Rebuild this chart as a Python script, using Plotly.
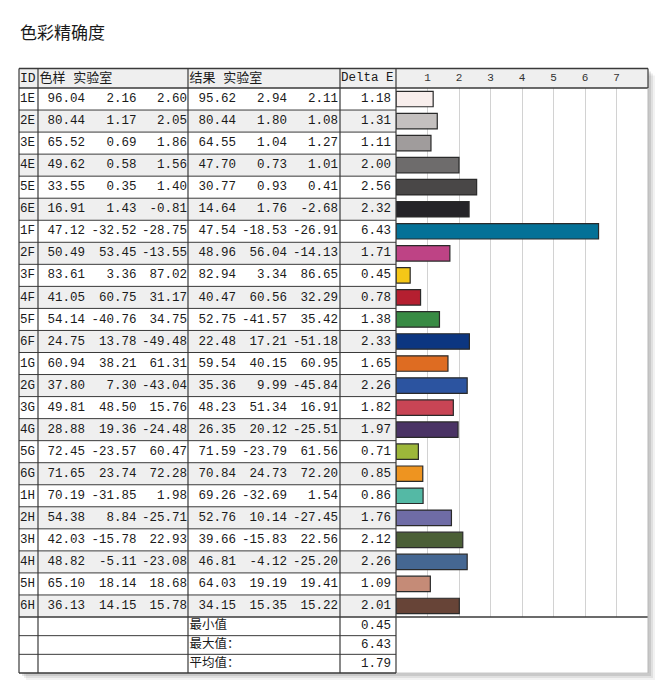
import plotly.graph_objects as go

# ---- data ----
ids = ["1E", "2E", "3E", "4E", "5E", "6E", "1F", "2F", "3F", "4F", "5F", "6F",
       "1G", "2G", "3G", "4G", "5G", "6G", "1H", "2H", "3H", "4H", "5H", "6H"]
sample_L = [96.04, 80.44, 65.52, 49.62, 33.55, 16.91, 47.12, 50.49, 83.61, 41.05, 54.14, 24.75,
            60.94, 37.80, 49.81, 28.88, 72.45, 71.65, 70.19, 54.38, 42.03, 48.82, 65.10, 36.13]
sample_a = [2.16, 1.17, 0.69, 0.58, 0.35, 1.43, -32.52, 53.45, 3.36, 60.75, -40.76, 13.78,
            38.21, 7.30, 48.50, 19.36, -23.57, 23.74, -31.85, 8.84, -15.78, -5.11, 18.14, 14.15]
sample_b = [2.60, 2.05, 1.86, 1.56, 1.40, -0.81, -28.75, -13.55, 87.02, 31.17, 34.75, -49.48,
            61.31, -43.04, 15.76, -24.48, 60.47, 72.28, 1.98, -25.71, 22.93, -23.08, 18.68, 15.78]
result_L = [95.62, 80.44, 64.55, 47.70, 30.77, 14.64, 47.54, 48.96, 82.94, 40.47, 52.75, 22.48,
            59.54, 35.36, 48.23, 26.35, 71.59, 70.84, 69.26, 52.76, 39.66, 46.81, 64.03, 34.15]
result_a = [2.94, 1.80, 1.04, 0.73, 0.93, 1.76, -18.53, 56.04, 3.34, 60.56, -41.57, 17.21,
            40.15, 9.99, 51.34, 20.12, -23.79, 24.73, -32.69, 10.14, -15.83, -4.12, 19.19, 15.35]
result_b = [2.11, 1.08, 1.27, 1.01, 0.41, -2.68, -26.91, -14.13, 86.65, 32.29, 35.42, -51.18,
            60.95, -45.84, 16.91, -25.51, 61.56, 72.20, 1.54, -27.45, 22.56, -25.20, 19.41, 15.22]
delta_e = [1.18, 1.31, 1.11, 2.00, 2.56, 2.32, 6.43, 1.71, 0.45, 0.78, 1.38, 2.33,
           1.65, 2.26, 1.82, 1.97, 0.71, 0.85, 0.86, 1.76, 2.12, 2.26, 1.09, 2.01]
bar_colors = ["#f8eeec", "#c4c0bf", "#a09c9c", "#6e6c6c", "#494747", "#252428",
              "#047197", "#be4385", "#f5c717", "#b51f30", "#388b44", "#0c3681",
              "#de6c22", "#2c54a0", "#c84555", "#4a3365", "#9db73a", "#ee9420",
              "#54b9a5", "#6f6ca6", "#4b5f36", "#456792", "#c58b77", "#674437"]
summary_labels = ["最小值", "最大值：", "平均值："]
summary_values = [0.45, 6.43, 1.79]
header_labels = ["ID", "色样 实验室", "结果 实验室", "Delta E"]
axis_ticks = [1, 2, 3, 4, 5, 6, 7]
title = "色彩精确度"

# ---- page layout (page pixels; the browser body adds an 8px margin) ----
PAD = 8
W, H = 670 - 2 * PAD, 693 - 2 * PAD
X_ID, X_SAMPLE, X_RESULT, X_DE, X_CHART, X_END = 19, 38, 188, 340, 396, 648
Y_TOP, Y_HEAD, Y_DATA_END, Y_END = 68.5, 88, 617, 673
n = len(ids)
row_h = (Y_DATA_END - Y_HEAD) / n
sum_h = (Y_END - Y_DATA_END) / len(summary_labels)
row_y = [Y_HEAD + (i + 0.5) * row_h for i in range(n)]
sum_y = [Y_DATA_END + (j + 0.5) * sum_h for j in range(len(summary_labels))]
head_y = (Y_TOP + Y_HEAD) / 2

MONO = "Liberation Mono, Noto Sans CJK SC, monospace"
TXT = "#1a1a1a"
LINE = "#3a3a3a"
ALT = "#efefef"

fig = go.Figure()
shapes = []


def rect(x0, x1, y0, y1, fill, layer="below"):
    shapes.append(dict(type="rect", xref="x", yref="y", layer=layer,
                       x0=x0, x1=x1, y0=y0, y1=y1, fillcolor=fill, line_width=0))


def rule(x0, x1, y0, y1, color=LINE, width=1):
    shapes.append(dict(type="line", xref="x", yref="y", layer="above",
                       x0=x0, x1=x1, y0=y0, y1=y1, line=dict(color=color, width=width)))


# drop shadow behind the whole block
for off, alpha in [(7, 0.05), (5, 0.07), (3, 0.10)]:
    rect(X_ID + off, X_END + off, Y_TOP + off, Y_END + off, f"rgba(0,0,0,{alpha})")
rect(X_ID, X_END, Y_TOP, Y_END, "white")
rect(X_ID, X_END, Y_TOP, Y_HEAD, ALT)
for i in range(n):
    if i % 2 == 1:
        rect(X_ID, X_CHART, Y_HEAD + i * row_h, Y_HEAD + (i + 1) * row_h, ALT)

# horizontal rules
for i in range(1, n):
    rule(X_ID, X_CHART, Y_HEAD + i * row_h, Y_HEAD + i * row_h)
for j in range(1, len(summary_labels)):
    rule(X_ID, X_CHART, Y_DATA_END + j * sum_h, Y_DATA_END + j * sum_h)
for y in [Y_TOP, Y_HEAD, Y_DATA_END]:
    rule(X_ID, X_END, y, y, width=1.3)
rule(X_ID, X_CHART, Y_END, Y_END, width=1.3)
rule(X_CHART, X_END, Y_END, Y_END, color="#c8c8c8")
# vertical rules
for x in [X_ID, X_SAMPLE, X_RESULT, X_DE, X_CHART]:
    rule(x, x, Y_TOP, Y_END, width=1.2)
rule(X_END, X_END, Y_TOP, Y_HEAD, width=1.2)
rule(X_END, X_END, Y_HEAD, Y_END, color="#b8b8b8")


def text_col(values, x, pos, size=12.5, ys=None):
    ys = row_y if ys is None else ys
    labels = [v if isinstance(v, str) else f"{v:.2f}" for v in values]
    fig.add_trace(go.Scatter(x=[x] * len(labels), y=ys, text=labels, mode="text",
                             textposition=pos, hoverinfo="skip", showlegend=False,
                             textfont=dict(family=MONO, size=size, color=TXT),
                             xaxis="x", yaxis="y"))


# header
text_col(header_labels[:1], X_ID + 1, "middle right", 13, ys=[head_y])
text_col(header_labels[1:2], X_SAMPLE + 1.5, "middle right", 13, ys=[head_y])
text_col(header_labels[2:3], X_RESULT + 1.5, "middle right", 13, ys=[head_y])
text_col(header_labels[3:4], X_DE + 1, "middle right", 12.5, ys=[head_y])

# body
text_col(ids, X_ID + 1, "middle right", 12.5)
for vals, xr in [(sample_L, 85), (sample_a, 136.5), (sample_b, 187),
                 (result_L, 236), (result_a, 287), (result_b, 338), (delta_e, 391)]:
    text_col(vals, xr, "middle left")

# summary rows
text_col(summary_labels, X_RESULT + 1.5, "middle right", 12.5, ys=sum_y)
text_col(summary_values, 391, "middle left", ys=sum_y)

# Delta E bars
fig.add_trace(go.Bar(x=delta_e, y=ids, orientation="h", xaxis="x2", yaxis="y2",
                     width=0.7, marker=dict(color=bar_colors, line=dict(color="#2a2a2a", width=1.2)),
                     hoverinfo="skip", showlegend=False))

fig.add_annotation(x=18, y=31, xref="x", yref="y", text=title, showarrow=False,
                   xanchor="left", yanchor="middle",
                   font=dict(family="Noto Sans CJK SC", size=17, color="#1a1a1a"))

fig.update_layout(
    width=W, height=H, margin=dict(l=0, r=0, t=0, b=0),
    paper_bgcolor="white", plot_bgcolor="rgba(0,0,0,0)",
    shapes=shapes,
    xaxis=dict(range=[PAD, PAD + W], visible=False, domain=[0, 1], fixedrange=True),
    yaxis=dict(range=[PAD + H, PAD], visible=False, domain=[0, 1], fixedrange=True),
    xaxis2=dict(domain=[(X_CHART - PAD) / W, (X_END - PAD) / W], range=[0, 8], anchor="y2",
                side="top", tickvals=axis_ticks, ticks="", showline=False, zeroline=False,
                showgrid=True, gridcolor="#d2d2d2", gridwidth=1, ticklabelstandoff=4,
                tickfont=dict(family=MONO, size=11, color="#333333")),
    yaxis2=dict(domain=[1 - (Y_DATA_END - PAD) / H, 1 - (Y_HEAD - PAD) / H], anchor="x2",
                type="category", categoryarray=ids, range=[n - 0.5, -0.5], visible=False),
)

fig.write_html("out.html")
